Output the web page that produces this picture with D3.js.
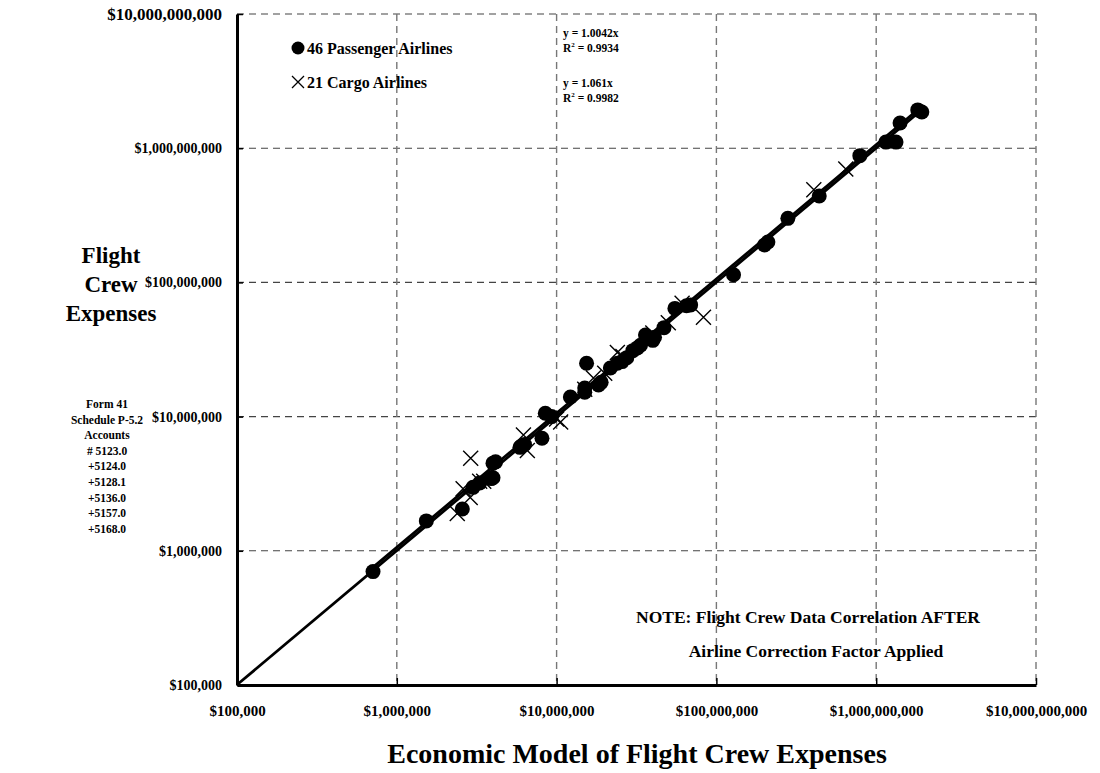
<!DOCTYPE html>
<html>
<head>
<meta charset="utf-8">
<script src="https://cdn.jsdelivr.net/npm/d3@7"></script>
<style>
  html, body { margin: 0; padding: 0; background: #fff; }
  svg { display: block; }
  text { font-family: "Liberation Serif", "Times New Roman", serif; font-weight: bold; fill: #000; }
</style>
</head>
<body>
<svg id="chart" width="1100" height="773"></svg>
<script>
// ---- Data ----
const tickValues = [1e5, 1e6, 1e7, 1e8, 1e9, 1e10];
const tickLabels = ["$100,000", "$1,000,000", "$10,000,000", "$100,000,000", "$1,000,000,000", "$10,000,000,000"];

// Passenger airlines: [economic model, Form 41 flight crew expenses]
const passengerX = [7.1e5, 1.53e6, 2.57e6, 3.0e6, 3.3e6, 4.0e6, 3.9e6, 4.0e6, 4.15e6, 5.9e6,
  6.3e6, 8.1e6, 8.5e6, 9.3e6, 1.22e7, 1.5e7, 1.5e7, 1.54e7, 1.83e7, 2.17e7,
  2.4e7, 2.57e7, 2.75e7, 3.2e7, 3.35e7, 3.6e7, 4.0e7, 4.1e7, 4.7e7, 5.5e7,
  6.9e7, 1.28e8, 2.0e8, 2.1e8, 2.8e8, 4.4e8, 7.9e8, 1.15e9, 1.33e9, 1.41e9,
  1.82e9, 1.93e9, 6.0e6, 1.9e7, 3.0e7, 6.5e7];
const passengerY = [7.0e5, 1.67e6, 2.05e6, 2.97e6, 3.2e6, 3.5e6, 3.45e6, 4.5e6, 4.6e6, 5.9e6,
  6.2e6, 6.9e6, 1.06e7, 1.0e7, 1.4e7, 1.63e7, 1.52e7, 2.5e7, 1.72e7, 2.3e7,
  2.5e7, 2.57e7, 2.75e7, 3.25e7, 3.4e7, 4.05e7, 3.7e7, 3.9e7, 4.6e7, 6.4e7,
  6.8e7, 1.14e8, 1.9e8, 2.0e8, 3.0e8, 4.4e8, 8.8e8, 1.11e9, 1.11e9, 1.54e9,
  1.93e9, 1.86e9, 6.0e6, 1.8e7, 3.1e7, 6.7e7];

// Cargo airlines
const cargoX = [2.39e6, 2.6e6, 2.88e6, 2.9e6, 6.2e6, 6.56e6, 1.06e7, 1.0e7, 1.7e7, 2.4e7,
  2.6e7, 5.0e7, 8.3e7, 6.1e7, 4.07e8, 6.45e8, 3.3e6, 1.5e7, 4.0e7, 2.0e7, 3.5e6];
const cargoY = [1.9e6, 2.9e6, 2.5e6, 4.9e6, 7.3e6, 5.6e6, 9.1e6, 9.6e6, 1.94e7, 3.0e7,
  2.8e7, 5.0e7, 5.5e7, 7.0e7, 4.9e8, 7.0e8, 3.3e6, 1.6e7, 4.2e7, 2.1e7, 3.3e6];

// Trend lines: y = slope * x over [from, to]
const trendSlopes = [1.0042, 1.061];
const trendFrom = [1e5, 7e5];
const trendTo = [2.0e9, 1.9e9];

const legendLabels = ["46 Passenger Airlines", "21 Cargo Airlines"];
const equationLines = ["y = 1.0042x", "0.9934", "y = 1.061x", "0.9982"];
const yTitle = ["Flight", "Crew", "Expenses"];
const sourceNote = ["Form 41", "Schedule P-5.2", "Accounts", "# 5123.0", "+5124.0", "+5128.1", "+5136.0", "+5157.0", "+5168.0"];
const noteLines = ["NOTE: Flight Crew Data Correlation AFTER", "Airline Correction Factor Applied"];
const xTitle = "Economic Model of Flight Crew Expenses";

// ---- Layout ----
const svg = d3.select("#chart");
const mLeft = 237, mRight = 1036, mTop = 14, mBottom = 685;
const serif = '"Liberation Serif", "Times New Roman", serif';

const x = d3.scaleLog().domain([1e5, 1e10]).range([mLeft, mRight]);
const y = d3.scaleLog().domain([1e5, 1e10]).range([mBottom, mTop]);

// Gridlines
const grid = svg.append("g");
grid.append("g").selectAll("line").data(tickValues.slice(1)).join("line")
  .attr("x1", mLeft).attr("x2", mRight)
  .attr("y1", d => y(d)).attr("y2", d => y(d))
  .attr("stroke", "#444").attr("stroke-width", 1.1).attr("stroke-dasharray", "7,5");
grid.append("g").selectAll("line").data(tickValues.slice(1)).join("line")
  .attr("y1", mTop).attr("y2", mBottom)
  .attr("x1", d => x(d)).attr("x2", d => x(d))
  .attr("stroke", "#777").attr("stroke-width", 1.4).attr("stroke-dasharray", "7,5");

// Axes
const xAxis = d3.axisBottom(x).tickValues(tickValues).tickFormat((d, i) => tickLabels[i])
  .tickSizeInner(-7).tickSizeOuter(0).tickPadding(20);
const gx = svg.append("g").attr("transform", `translate(0,${mBottom})`).call(xAxis);
gx.select(".domain").attr("stroke", "#000").attr("stroke-width", 3);
gx.selectAll(".tick line").attr("stroke", "#000").attr("stroke-width", 1.5);
gx.selectAll(".tick text").attr("font-size", 15).attr("dy", "0.71em")
  .style("font-family", serif).style("font-weight", "bold");

const yAxis = d3.axisLeft(y).tickValues(tickValues).tickFormat((d, i) => tickLabels[i])
  .tickSizeInner(-6).tickSizeOuter(0).tickPadding(15);
const gy = svg.append("g").attr("transform", `translate(${mLeft},0)`).call(yAxis);
gy.select(".domain").attr("stroke", "#000").attr("stroke-width", 3);
gy.selectAll(".tick line").attr("stroke", "#000").attr("stroke-width", 1.5);
gy.selectAll(".tick text").attr("font-size", (d, i) => i === tickValues.length - 1 ? 17 : 14)
  .style("font-family", serif).style("font-weight", "bold");

// Trend lines
const trends = trendSlopes.map((s, i) => ({ s, a: trendFrom[i], b: trendTo[i] }));
svg.append("g").selectAll("line").data(trends).join("line")
  .attr("x1", d => x(d.a)).attr("y1", d => y(d.a * d.s))
  .attr("x2", d => x(d.b)).attr("y2", d => y(d.b * d.s))
  .attr("stroke", "#000").attr("stroke-width", 2.8);

// Passenger points
const pData = passengerX.map((v, i) => ({ x: v, y: passengerY[i] }));
svg.append("g").selectAll("circle").data(pData).join("circle")
  .attr("cx", d => x(d.x)).attr("cy", d => y(d.y)).attr("r", 7.5).attr("fill", "#000");

// Cargo points
const cData = cargoX.map((v, i) => ({ x: v, y: cargoY[i] }));
const xs = 7.5;
svg.append("g").selectAll("path").data(cData).join("path")
  .attr("d", d => {
    const cx = x(d.x), cy = y(d.y);
    return `M${cx - xs},${cy - xs}L${cx + xs},${cy + xs}M${cx - xs},${cy + xs}L${cx + xs},${cy - xs}`;
  })
  .attr("stroke", "#000").attr("stroke-width", 1.4).attr("fill", "none");

// Legend
svg.append("circle").attr("cx", 298).attr("cy", 48).attr("r", 6.5).attr("fill", "#000");
svg.append("path").attr("d", "M292,76L304,88M292,88L304,76").attr("stroke", "#000").attr("stroke-width", 1.3);
svg.selectAll("text.legend").data(legendLabels).join("text").attr("class", "legend")
  .attr("x", 307).attr("y", (d, i) => 54 + i * 34).attr("font-size", 16).text(d => d);

// Equations
const eq = svg.append("g");
[0, 2].forEach(k => {
  const by = k === 0 ? 37 : 87;
  eq.append("text").attr("x", 563).attr("y", by).attr("font-size", 11.5).text(equationLines[k]);
  const t = eq.append("text").attr("x", 563).attr("y", by + 15).attr("font-size", 11.5);
  t.append("tspan").text("R");
  t.append("tspan").attr("font-size", 7).attr("dy", -5).text("2");
  t.append("tspan").attr("dy", 5).text(" = " + equationLines[k + 1]);
});

// Y title
svg.selectAll("text.ytitle").data(yTitle).join("text").attr("class", "ytitle")
  .attr("x", 111).attr("y", (d, i) => 263 + i * 29).attr("text-anchor", "middle")
  .attr("font-size", 23).text(d => d);

// Source note
svg.selectAll("text.src").data(sourceNote).join("text").attr("class", "src")
  .attr("x", 107).attr("y", (d, i) => 408 + i * 15.6).attr("text-anchor", "middle")
  .attr("font-size", 11.5).text(d => d);

// Note
svg.selectAll("text.note").data(noteLines).join("text").attr("class", "note")
  .attr("x", (d, i) => i === 0 ? 808 : 816).attr("y", (d, i) => 623 + i * 34).attr("text-anchor", "middle")
  .attr("font-size", 17.5).text(d => d);

// X title
svg.append("text").attr("x", 637).attr("y", 763).attr("text-anchor", "middle")
  .attr("font-size", 28).text(xTitle);
</script>
</body>
</html>
